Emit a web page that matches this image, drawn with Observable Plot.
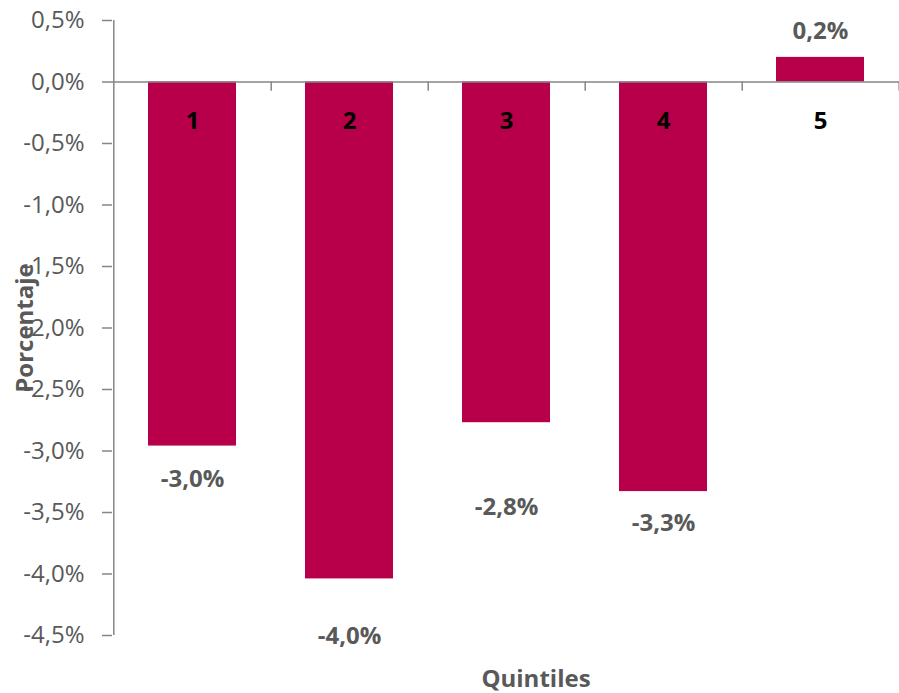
<!DOCTYPE html>
<html>
<head>
<meta charset="utf-8">
<script src="https://cdn.jsdelivr.net/npm/d3@7"></script>
<script src="https://cdn.jsdelivr.net/npm/@observablehq/plot@0.6"></script>
<style>
  html, body { margin: 0; padding: 0; background: #fff; }
  #chart svg { display: block; font-family: "Open Sans", sans-serif; }
</style>
</head>
<body>
<div id="chart"></div>
<script>
// Data
const quintiles = ["1", "2", "3", "4", "5"];
const values = [-2.96, -4.04, -2.77, -3.33, 0.2];
const valueLabels = ["-3,0%", "-4,0%", "-2,8%", "-3,3%", "0,2%"];
// label anchors (data units, as placed in the original chart)
const labelAt = [-3.23, -4.51, -3.46, -3.59, 0.41];
const yTicks = [0.5, 0, -0.5, -1, -1.5, -2, -2.5, -3, -3.5, -4, -4.5];

const rows = quintiles.map((q, i) => ({q, v: values[i], label: valueLabels[i], ly: labelAt[i]}));

const W = 899, H = 693;
const mL = 112, mR = 0, mT = 20, mB = 58;
const step = (W - mL - mR) / quintiles.length;
const gray = "#595959";
const axisGray = "#868686";
const fmt = d => d.toFixed(1).replace(".", ",") + "%";

const chart = Plot.plot({
  width: W,
  height: H,
  marginLeft: mL,
  marginRight: mR,
  marginTop: mT,
  marginBottom: mB,
  style: {fontFamily: "'Open Sans', sans-serif", background: "#fff"},
  x: {domain: quintiles, paddingInner: 0.44, paddingOuter: 0.22, axis: null},
  y: {domain: [-4.5, 0.5], axis: null},
  marks: [
    Plot.barY(rows, {x: "q", y: "v", fill: "#B8004A"}),
    // y axis line (left edge of the first category slot)
    Plot.ruleX([quintiles[0]], {x: d => d, dx: -step / 2, y1: -4.5, y2: 0.5, stroke: axisGray, strokeWidth: 1.5}),
    Plot.axisY({
      ticks: yTicks,
      tickFormat: fmt,
      tickSize: 10,
      tickPadding: 18,
      stroke: axisGray,
      strokeWidth: 1.5,
      color: gray,
      fontSize: 24,
      label: null
    }),
    // zero baseline
    Plot.ruleY([0], {stroke: axisGray, strokeWidth: 1.5}),
    // category boundary ticks on the zero line
    Plot.ruleX(quintiles, {x: d => d, dx: step / 2, y1: 0, y2: -0.075, stroke: axisGray, strokeWidth: 1.5}),
    // category numbers
    Plot.text(rows, {x: "q", y: -0.32, text: "q", fill: "#000", fontWeight: "bold", fontSize: 24}),
    // value labels
    Plot.text(rows, {x: "q", y: "ly", text: "label", fill: gray, fontWeight: "bold", fontSize: 24}),
    // axis titles
    Plot.text(["Porcentaje"], {frameAnchor: "left", rotate: -90, dx: -87, text: d => d, fill: gray, fontWeight: "bold", fontSize: 24, textAnchor: "middle", lineAnchor: "middle"}),
    Plot.text(["Quintiles"], {frameAnchor: "bottom", dx: 30, dy: 44, text: d => d, fill: gray, fontWeight: "bold", fontSize: 24, textAnchor: "middle", lineAnchor: "middle"})
  ]
});
document.getElementById("chart").appendChild(chart);
</script>
</body>
</html>
